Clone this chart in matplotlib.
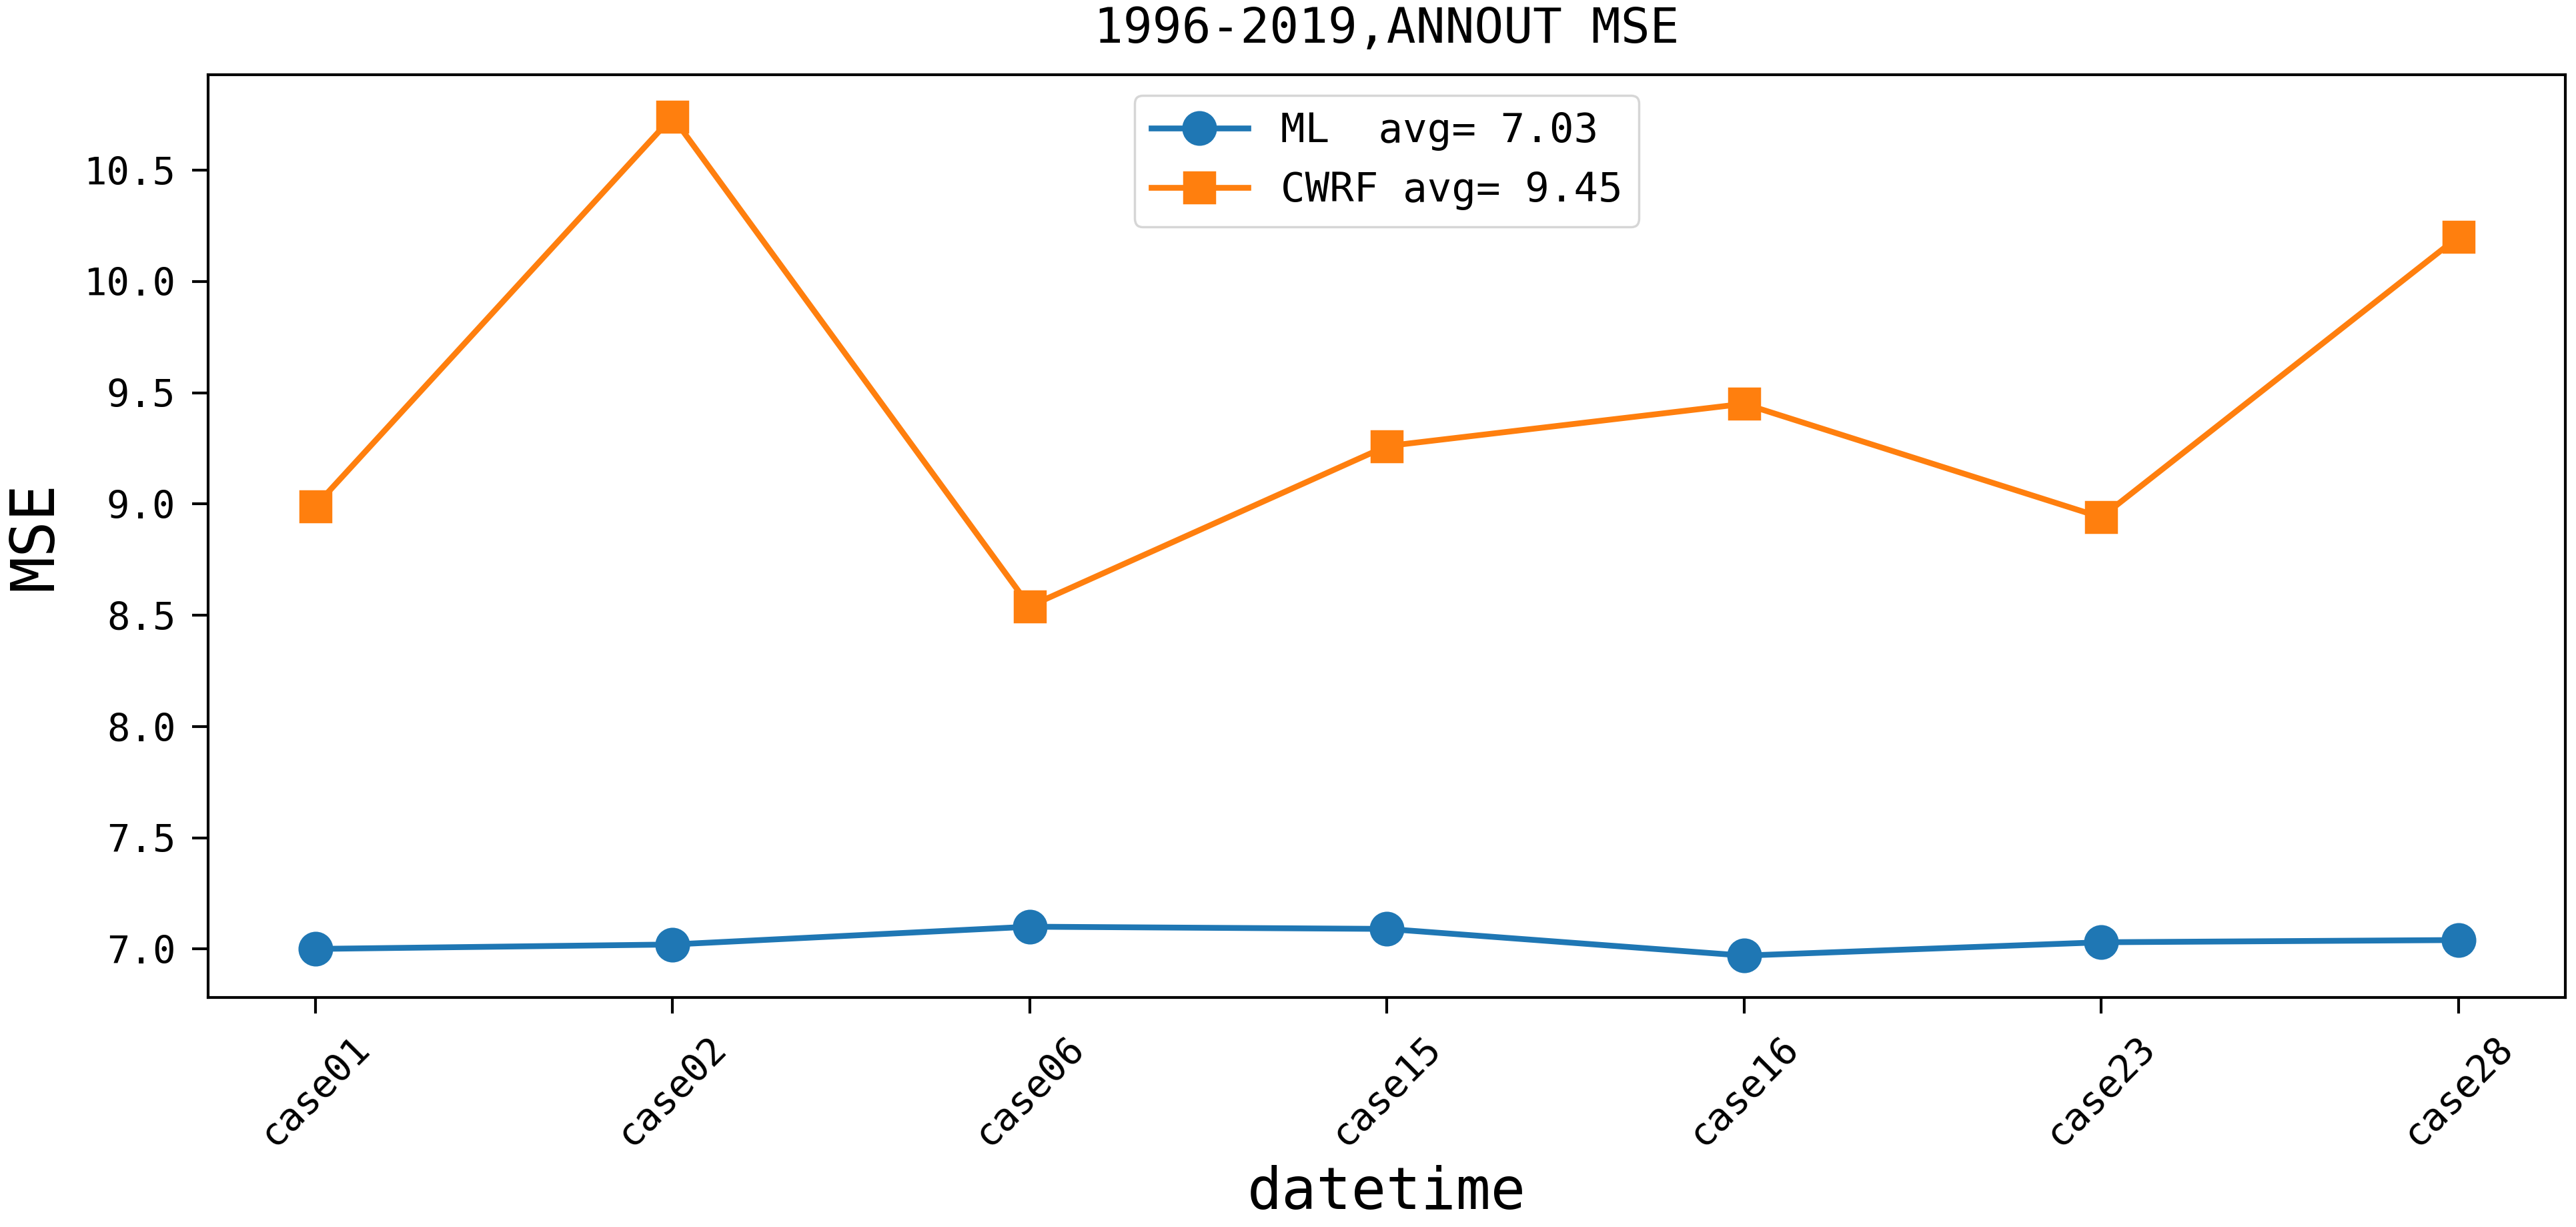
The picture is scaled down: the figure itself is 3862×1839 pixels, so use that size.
import numpy as np
import matplotlib
matplotlib.use('Agg')
from matplotlib import pyplot as plt

# values
cases = ['case01', 'case02', 'case06', 'case15', 'case16', 'case23', 'case28']
ml_mse = [7.00, 7.02, 7.10, 7.09, 6.97, 7.03, 7.04]
cwrf_mse = [8.99, 10.74, 8.54, 9.26, 9.45, 8.94, 10.20]
series_labels = ['ML  avg= 7.03', 'CWRF avg= 9.45']

plt.rcParams['font.family'] = ['DejaVu Sans Mono']

fig = plt.figure(figsize=(15.448, 7.356), dpi=250)
ax = fig.add_axes([0.0808, 0.187, 0.9151, 0.752])

x = np.arange(len(cases))
ax.plot(x, ml_mse, marker='o', color='#1f77b4', lw=2.5, ms=14, label=series_labels[0])
ax.plot(x, cwrf_mse, marker='s', color='#ff7f0e', lw=2.5, ms=13.5, label=series_labels[1])

ax.set_xticks(x)
ax.set_xticklabels(cases, rotation=45)
ax.set_yticks([7.0, 7.5, 8.0, 8.5, 9.0, 9.5, 10.0, 10.5])

ax.tick_params(axis='both', labelsize=16.5, length=7, width=1.2, pad=7)
for s in ax.spines.values():
    s.set_linewidth(1.2)

#title + labels
ax.set_title('1996-2019,ANNOUT MSE', fontsize=21, pad=14)
ax.set_xlabel('datetime', fontsize=25, labelpad=5)
ax.set_ylabel('MSE', fontsize=26, labelpad=8)

ax.legend(loc='upper center', fontsize=17.5, handlelength=2.4)

fig.savefig('out.png', dpi=250)
